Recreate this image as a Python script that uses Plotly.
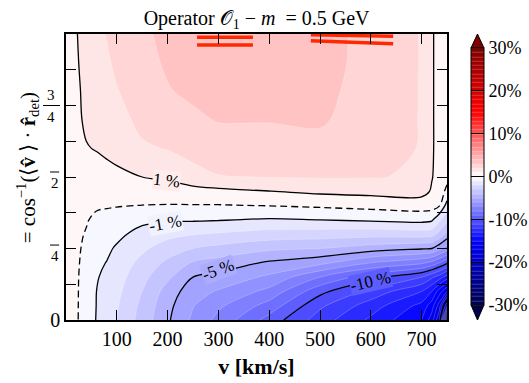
import plotly.graph_objects as go

# Grid: DM speed v [km/s] (columns) and angle theta in units of pi (rows)
v_kms = [0, 20, 40, 60, 80, 100, 150, 200, 250, 300, 400, 500, 600, 700, 720, 735, 750]
theta_frac = [0, 0.05, 0.1, 0.15, 0.2, 0.25, 0.3, 0.35, 0.4, 0.45, 0.5, 0.6, 0.7, 0.8, 0.9, 1.0]

# Relative difference [%], one row per theta value
diff_pct = [
    [0.5, 0.10, -0.40, -1.05, -1.50, -2.00, -3.40, -4.85, -6.20, -7.30, -9.40, -11.5, -13.2, -15.0, -16.5, -19.0, -30.0],
    [0.5, 0.10, -0.38, -1.02, -1.40, -1.90, -3.25, -4.70, -5.95, -6.80, -8.40, -10.8, -12.5, -14.3, -15.5, -17.5, -22.0],
    [0.5, 0.10, -0.35, -1.00, -1.30, -1.75, -3.00, -4.40, -5.60, -6.10, -7.30, -9.70, -11.3, -13.0, -14.0, -15.5, -17.0],
    [0.5, 0.10, -0.30, -0.95, -1.15, -1.55, -2.70, -3.80, -5.00, -5.30, -6.20, -8.00, -9.60, -11.0, -11.8, -12.5, -13.5],
    [0.5, 0.12, -0.24, -0.85, -1.02, -1.35, -2.30, -3.20, -4.10, -4.40, -5.15, -5.70, -7.00, -7.80, -8.30, -9.00, -9.80],
    [0.5, 0.14, -0.16, -0.65, -0.85, -1.10, -1.80, -2.50, -3.00, -3.30, -3.80, -4.00, -4.50, -4.90, -5.00, -5.70, -6.50],
    [0.5, 0.17, -0.06, -0.45, -0.60, -0.80, -1.30, -1.70, -1.95, -2.10, -2.40, -2.50, -2.60, -2.50, -2.60, -3.30, -4.30],
    [0.5, 0.22, 0.07, -0.20, -0.30, -0.45, -0.80, -0.90, -0.90, -0.95, -1.10, -1.00, -0.85, -0.70, -0.85, -1.80, -2.70],
    [0.5, 0.30, 0.20, 0.12, 0.08, 0.05, -0.02, -0.05, -0.05, -0.05, 0.02, 0.15, 0.30, 0.45, 0.40, 0.05, -1.40],
    [0.5, 0.38, 0.33, 0.35, 0.35, 0.40, 0.50, 0.55, 0.65, 0.75, 0.98, 1.20, 1.30, 1.35, 0.90, 0.50, -0.25],
    [0.5, 0.48, 0.50, 0.60, 0.75, 0.80, 1.00, 1.15, 1.60, 1.95, 2.02, 2.08, 2.05, 1.90, 1.05, 0.65, 0.30],
    [0.5, 0.65, 0.95, 1.05, 1.15, 1.30, 1.85, 2.05, 2.40, 2.55, 2.60, 2.75, 2.40, 1.95, 1.10, 0.70, 0.50],
    [0.5, 0.80, 1.15, 1.30, 1.40, 1.60, 2.30, 2.60, 2.85, 3.05, 3.05, 3.10, 2.60, 1.95, 1.10, 0.70, 0.50],
    [0.5, 0.85, 1.20, 1.50, 1.65, 1.95, 2.50, 2.95, 3.15, 3.35, 3.40, 3.20, 2.70, 1.95, 1.10, 0.70, 0.50],
    [0.5, 0.90, 1.30, 1.65, 1.85, 2.20, 2.75, 3.10, 3.35, 3.55, 3.55, 3.28, 2.75, 1.95, 1.10, 0.70, 0.50],
    [0.5, 0.95, 1.35, 1.70, 2.05, 2.30, 2.85, 3.20, 3.45, 3.60, 3.60, 3.30, 2.75, 1.95, 1.10, 0.70, 0.50],
]

solid_levels = [-20, -10, -5, -1, 1]
dashed_level = 0

# Contour labels: (text, v, theta/pi, angle, background)
contour_labels = [
    ("1 %", 197, 0.489, 6, "rgb(255,236,236)"),
    ("-1 %", 195, 0.339, -10, "rgb(242,242,255)"),
    ("-5 %", 301, 0.175, -20, "rgb(172,172,255)"),
    ("-10 %", 600, 0.136, -13, "rgb(92,92,255)"),
]

# Red bands near theta = pi: pairs of segments (v range, theta/pi at both ends)
red_v = [[258, 368], [258, 368], [482, 644], [482, 644]]
red_theta = [[0.9885, 0.9885], [0.9615, 0.9615], [0.997, 0.992], [0.976, 0.966]]

cbar_ticks = [-30, -20, -10, 0, 10, 20, 30]
cbar_text = ["-30%", "-20%", "-10%", "0%", "10%", "20%", "30%"]

yticks = [0, 0.125, 0.25, 0.375, 0.5, 0.625, 0.75, 0.875, 1.0]
xticks = [100, 200, 300, 400, 500, 600, 700]

seismic = [
    [0.0, "rgb(0,0,77)"],
    [0.25, "rgb(0,0,255)"],
    [0.5, "rgb(255,255,255)"],
    [0.75, "rgb(255,0,0)"],
    [1.0, "rgb(128,0,0)"],
]

SERIF = "Liberation Serif"

fig = go.Figure()

fig.add_trace(go.Contour(
    x=v_kms, y=theta_frac, z=diff_pct,
    zmin=-30, zmax=30, colorscale=seismic,
    autocontour=False,
    contours=dict(start=-30, end=30, size=1, coloring="fill"),
    line=dict(width=0.5, color="rgba(255,255,255,0.45)", smoothing=1),
    hoverinfo="skip",
    colorbar=dict(
        x=1.063, xanchor="left", xpad=0,
        y=0.502, yanchor="middle", ypad=0,
        len=0.899, lenmode="fraction", thickness=13,
        outlinewidth=1, outlinecolor="black",
        tickvals=cbar_ticks, ticktext=cbar_text,
        ticks="inside", ticklen=13, tickcolor="black", tickwidth=1,
        tickfont=dict(family=SERIF, size=18, color="black"),
    ),
))

for lvl in solid_levels:
    fig.add_trace(go.Contour(
        x=v_kms, y=theta_frac, z=diff_pct,
        autocontour=False,
        contours=dict(start=lvl, end=lvl, size=1, coloring="none"),
        line=dict(color="black", width=1.3, smoothing=1),
        showscale=False, hoverinfo="skip",
    ))

fig.add_trace(go.Contour(
    x=v_kms, y=theta_frac, z=diff_pct,
    autocontour=False,
    contours=dict(start=dashed_level, end=dashed_level, size=1, coloring="none"),
    line=dict(color="black", width=1.3, dash="7px,4px", smoothing=1),
    showscale=False, hoverinfo="skip",
))

for xs, ys in zip(red_v, red_theta):
    fig.add_trace(go.Scatter(
        x=xs, y=ys, mode="lines",
        line=dict(color="rgb(255,40,0)", width=3.5),
        showlegend=False, hoverinfo="skip",
    ))

annotations = []
for text, vx, th, ang, bg in contour_labels:
    annotations.append(dict(
        x=vx, y=th, xref="x", yref="y", text=text, showarrow=False,
        textangle=ang, bgcolor=bg, borderpad=0,
        font=dict(family=SERIF, size=17, color="black"),
    ))

# Fraction-style tick labels on the theta axis (y axis spans paper 0..1)
frac_font = dict(family=SERIF, size=15, color="black")
annotations += [
    dict(x=-0.040, y=0.75, xref="paper", yref="paper", text="3", showarrow=False,
         xanchor="center", yanchor="bottom", yshift=1, font=frac_font),
    dict(x=-0.040, y=0.75, xref="paper", yref="paper", text="4", showarrow=False,
         xanchor="center", yanchor="top", yshift=-1, font=frac_font),
    dict(x=-0.030, y=0.5175, xref="paper", yref="paper", text="2", showarrow=False,
         xanchor="center", yanchor="top", yshift=-1, font=frac_font),
    dict(x=-0.030, y=0.262, xref="paper", yref="paper", text="4", showarrow=False,
         xanchor="center", yanchor="top", yshift=-1, font=frac_font),
    dict(x=-0.102, y=0.531, xref="paper", yref="paper", textangle=-90,
         xanchor="center", yanchor="middle",
         text="= cos<sup>\u22121</sup>(\u27e8<b>v\u0302</b> \u27e9 \u00b7 <b>r\u0302</b><sub>det</sub>)",
         showarrow=False, font=dict(family=SERIF, size=21, color="black")),
]

shapes = [
    dict(type="line", xref="paper", yref="paper", x0=-0.0604, x1=-0.0157, y0=0.75, y1=0.75,
         line=dict(color="black", width=1)),
    dict(type="line", xref="paper", yref="paper", x0=-0.042, x1=-0.018, y0=0.5175, y1=0.5175,
         line=dict(color="black", width=1)),
    dict(type="line", xref="paper", yref="paper", x0=-0.042, x1=-0.018, y0=0.262, y1=0.262,
         line=dict(color="black", width=1)),
    # colorbar extension triangles
    dict(type="path", xref="paper", yref="paper",
         path="M 1.063 0.951 L 1.097 0.951 L 1.080 1.0 Z",
         fillcolor="rgb(128,0,0)", line=dict(color="black", width=1)),
    dict(type="path", xref="paper", yref="paper",
         path="M 1.063 0.0524 L 1.097 0.0524 L 1.080 0.0 Z",
         fillcolor="rgb(0,0,77)", line=dict(color="black", width=1)),
]

fig.update_layout(
    width=529, height=383,
    margin=dict(l=66, r=82, t=34, b=63, autoexpand=False),
    paper_bgcolor="white", plot_bgcolor="white",
    showlegend=False,
    title=dict(
        text="Operator \U0001D4AA<sub>1</sub> \u2212 <i>m</i>  = 0.5 GeV",
        x=0.485, xanchor="center", y=0.953, yanchor="middle",
        font=dict(family=SERIF, size=20, color="black"),
    ),
    xaxis=dict(
        range=[0, 750], tickvals=xticks, ticks="inside", ticklen=10,
        tickcolor="black", tickwidth=1, mirror="ticks", showline=True,
        linecolor="black", linewidth=1.5, showgrid=False, zeroline=False,
        tickfont=dict(family=SERIF, size=20, color="black"),
        title=dict(text="<b>v [km/s]</b>", standoff=10,
                   font=dict(family=SERIF, size=22, color="black")),
    ),
    yaxis=dict(
        range=[0, 1], tickvals=yticks,
        ticktext=["0", "", "", "", "", "", "", "", ""],
        ticks="inside", ticklen=10, tickcolor="black", tickwidth=1,
        mirror="ticks", showline=True, linecolor="black", linewidth=1.5,
        showgrid=False, zeroline=False,
        tickfont=dict(family=SERIF, size=20, color="black"),
    ),
    annotations=annotations,
    shapes=shapes,
)

fig.write_html("out.html")
